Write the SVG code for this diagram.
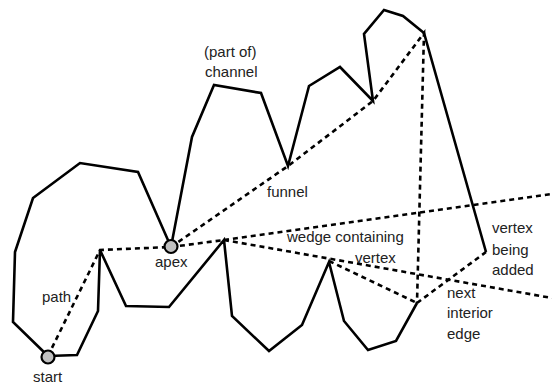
<svg xmlns="http://www.w3.org/2000/svg" width="552" height="387" viewBox="0 0 552 387">
<style>
.solid{fill:none;stroke:#000;stroke-width:2.6;stroke-linejoin:miter;stroke-linecap:butt}
.dash{fill:none;stroke:#000;stroke-width:2.6;stroke-dasharray:5,4}
.pt{fill:#c0c0c0;stroke:#000;stroke-width:2.2}
text{font-family:"Liberation Sans",Arial,Helvetica,sans-serif;font-size:15px;fill:#222}
</style>
<rect width="552" height="387" fill="#fff"/>
<g id="connectors">
<path class="solid" d="M48,356 L13,322 L15,252 L33,198 L80,163 L138,172 L171,247 L192,137 L214,85 L261,93 L288,166 L309,86 L340,67 L373,101 L364,34 L384,10 L403,16 L424,33 L486,252"/>
<path class="solid" d="M48,356 L77,355 L98,311 L100,250 L126,306 L169,307 L224,240 L232,316 L269,351 L302,325 L329,262 L344,321 L368,350 L396,341 L417,303"/>
<path class="dash" d="M48,356 L100,250 L171,247"/>
<path class="dash" d="M171,247 L288,166 L373,101 L424,33 L417,303"/>
<path class="dash" d="M171,247 L224,240"/>
<path class="dash" d="M224,240 L552,194"/>
<path class="dash" d="M224,240 L552,298"/>
<path class="dash" d="M329,261 L417,303"/>
<path class="dash" d="M417,303 L486,252"/>
</g>
<g id="start"><circle class="pt" cx="48" cy="357" r="6.5"/><text x="33" y="382">start</text></g>
<g id="apex"><circle class="pt" cx="171" cy="246.5" r="6.5"/><text x="155" y="267">apex</text></g>
<g id="path-label"><text x="42" y="302">path</text></g>
<g id="channel-label"><text x="204" y="57">(part of)</text><text x="205" y="77">channel</text></g>
<g id="funnel-label"><text x="267" y="197">funnel</text></g>
<g id="wedge-label"><text x="287" y="242">wedge containing</text><text x="355" y="263">vertex</text></g>
<g id="vertex-added"><text x="492" y="233">vertex</text><text x="492" y="255">being</text><text x="492" y="275">added</text></g>
<g id="next-edge"><text x="447" y="298">next</text><text x="447" y="318">interior</text><text x="447" y="339">edge</text></g>
</svg>
